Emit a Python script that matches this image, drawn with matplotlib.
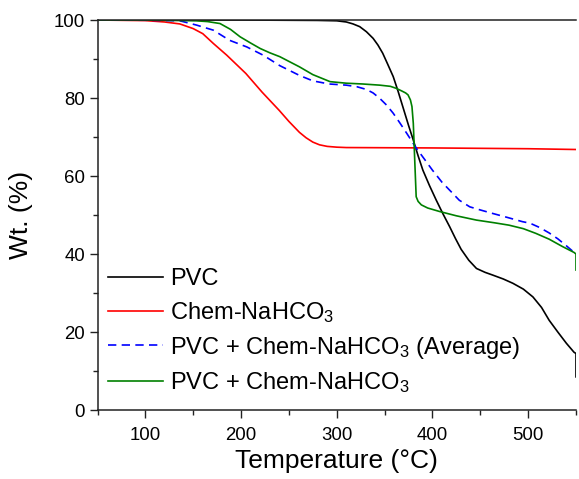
import matplotlib
matplotlib.use('Agg')
import matplotlib.pyplot as plt

plt.rcParams['font.family'] = ['Liberation Sans', 'DejaVu Sans']
plt.rcParams['mathtext.fontset'] = 'custom'
plt.rcParams['mathtext.rm'] = 'Liberation Sans'
plt.rcParams['mathtext.default'] = 'regular'

# TGA curves (temperature in degC, weight in %)
pvc_t = [50, 100, 200, 280, 300, 310, 317, 324, 331, 338, 343, 348, 353, 359, 364, 369,
         375, 380, 385, 390, 397, 404, 411, 418, 424, 430, 438, 446, 455, 463, 474,
         484, 495, 505, 514, 522, 531, 540, 548, 550, 550]
pvc_w = [100, 100, 100, 99.9, 99.8, 99.5, 99.0, 98.3, 97.0, 95.3, 93.6, 91.5, 88.8, 85.5, 81.8, 77.8,
         73.0, 69.2, 65.2, 61.5, 57.5, 53.8, 50.3, 47.0, 44.0, 41.2, 38.4, 36.3, 35.3, 34.6, 33.6,
         32.5, 31.0, 29.0, 26.3, 23.0, 20.0, 17.1, 14.8, 14.5, 8.5]

chem_t = [50, 100, 120, 136, 150, 160, 171, 185, 205, 222, 240, 250, 261, 268, 275,
          282, 290, 300, 310, 400, 500, 550]
chem_w = [100, 99.85, 99.5, 99.0, 97.8, 96.5, 94.0, 91.0, 86.3, 81.5, 76.8, 74.0, 71.2, 69.8, 68.7,
          68.0, 67.6, 67.4, 67.3, 67.2, 67.0, 66.8]

avg_t = [50, 100, 136, 153.5, 171, 188, 206, 223, 240.5, 261, 275, 292, 310, 321, 331,
         338, 345, 352, 359, 366, 373, 383, 392, 400, 410, 421, 428, 439, 450, 463,
         478, 494, 502, 512, 522, 531, 540, 549]
avg_w = [100, 99.95, 99.8, 98.7, 97.4, 94.8, 93.1, 91.0, 88.3, 85.8, 84.4, 83.6, 83.3, 82.9, 82.2,
         81.3, 79.9, 78.2, 76.1, 73.6, 71.0, 67.2, 64.2, 61.5, 58.4, 55.6, 53.8, 52.1, 51.3, 50.4,
         49.4, 48.3, 47.9, 46.8, 45.4, 43.9, 42.1, 40.2]

mix_t = [50, 100, 153, 165, 178, 189, 199, 210, 220, 230, 240.5, 261, 275, 293, 310,
         327, 345, 356, 362, 368, 372, 374.5, 377, 378.6, 380, 381.5, 383, 385, 388.4,
         395, 407.5, 425, 446, 465, 480, 495, 508, 522, 536, 548, 550, 550]
mix_w = [100, 100, 99.8, 99.6, 99.1, 97.6, 95.7, 94.1, 92.7, 91.6, 90.6, 88.0, 86.0, 84.2, 83.8,
         83.6, 83.3, 83.0, 82.5, 81.8, 81.3, 80.8, 79.5, 77.8, 73.5, 64.0, 54.7, 53.5, 52.6,
         51.8, 50.9, 49.8, 48.7, 48.0, 47.4, 46.5, 45.3, 43.8, 41.9, 40.4, 40.0, 35.9]

labels = ['PVC', 'Chem-NaHCO$_3$', 'PVC + Chem-NaHCO$_3$ (Average)', 'PVC + Chem-NaHCO$_3$']

fig = plt.figure(figsize=(5.79, 4.79), dpi=100)
ax = fig.add_axes([0.1684, 0.1440, 0.8264, 0.8142])

ax.plot(pvc_t, pvc_w, color='black', lw=1.2, label=labels[0])
ax.plot(chem_t, chem_w, color='#ff0000', lw=1.2, label=labels[1])
ax.plot(avg_t, avg_w, color='#0000ff', lw=1.2, ls=(0, (5, 3.2)), label=labels[2])
ax.plot(mix_t, mix_w, color='#008000', lw=1.2, label=labels[3])

ax.set_xlim(50, 550)
ax.set_ylim(0, 100)
ax.set_xticks([100, 200, 300, 400, 500])
ax.set_xticks([50, 150, 250, 350, 450, 550], minor=True)
ax.set_yticks([0, 20, 40, 60, 80, 100])
ax.set_yticks([10, 30, 50, 70, 90], minor=True)
ax.tick_params(which='major', direction='out', length=6, width=1.0, labelsize=13.4, color='#222222')
ax.tick_params(axis='x', which='major', pad=6)
ax.tick_params(axis='y', which='major', pad=3)
ax.tick_params(which='minor', direction='out', length=3.5, width=1.0, color='#222222')
ax.spines['right'].set_visible(False)
for s in ['left', 'bottom', 'top']:
    ax.spines[s].set_linewidth(1.1)
    ax.spines[s].set_color('#222222')

ax.set_xlabel('Temperature (°C)', fontsize=19, labelpad=4)
ax.set_ylabel('Wt. (%)', fontsize=19, labelpad=15)

ax.legend(loc='lower left', bbox_to_anchor=(-0.012, -0.005), frameon=False, fontsize=17,
          handlelength=2.3, handletextpad=0.3, labelspacing=0.42, borderaxespad=0.3)

fig.savefig('out.png', dpi=100)
